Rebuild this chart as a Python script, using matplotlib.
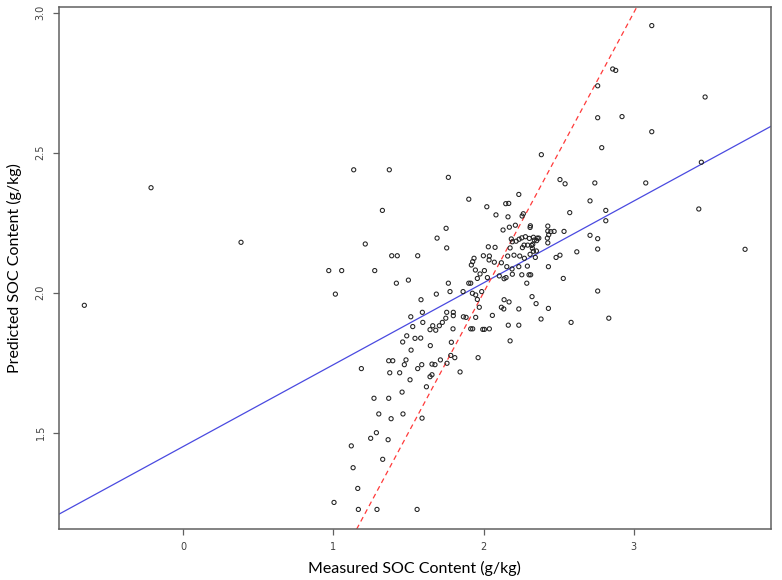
import matplotlib
matplotlib.use("Agg")
import matplotlib.pyplot as plt

# measured vs predicted SOC (g/kg)
measured = [
    1.136, 1.373, 1.766, 2.385, 1.327, 1.902, 2.022, 2.148, 2.168, 2.235,
    2.083, 2.163, 2.265, 2.257, 2.509, 2.543, 2.741, 2.709, 2.574, 1.751,
    1.691, 1.755, 1.213, 1.389, 1.426, 1.562, 0.970, 1.056, 1.276, 1.014,
    1.420, 1.500, 1.766, 1.686, 1.584, 1.777, 1.864, 1.902, 1.915, 1.926,
    1.948, 1.959, 1.988, 1.937, 1.928, 1.919, 1.946, 1.977, 1.959, 2.006,
    2.026, 1.999, 2.032, 2.077, 2.039, 2.037, 2.072, 2.119, 2.130, 2.172,
    2.212, 2.185, 2.192, 2.217, 2.237, 2.255, 2.279, 2.305, 2.332, 2.358,
    2.312, 2.310, 2.177, 2.259, 2.270, 2.294, 2.321, 2.325, 2.332, 2.352,
    2.161, 2.203, 2.241, 2.272, 2.310, 2.345, 2.155, 2.190, 2.235, 2.292,
    2.105, 2.137, 2.150, 2.192, 2.255, 2.303, 2.314, 2.288, 2.428, 2.428,
    2.448, 2.470, 2.434, 2.425, 2.428, 2.536, 2.368, 2.354, 2.328, 2.338,
    2.483, 2.509, 2.621, 2.709, 2.760, 2.760, 2.432, 2.531, 2.760, 2.323,
    2.137, 2.170, 1.972, 2.119, 2.135, 2.235, 2.350, 2.432, 2.059, 1.866,
    1.884, 1.948, 1.755, 1.799, 1.799, 1.749, 1.726, 1.706, 1.662, 1.644,
    1.682, 1.593, 1.596, 1.516, 1.529, 1.582, 1.544, 1.489, 1.462, 1.646,
    1.518, 1.797, 1.915, 1.928, 1.995, 2.006, 2.039, 1.786, 2.165, 2.235,
    2.177, 2.383, 2.583, 1.369, 1.396, 1.484, 1.473, 1.187, 1.376, 1.442,
    1.562, 1.589, 1.657, 1.677, 1.713, 1.782, 1.809, 1.757, 1.964, 1.844,
    1.644, 1.657, 1.511, 1.620, 1.458, 1.271, 1.369, 1.303, 1.464, 1.385,
    1.591, 1.287, 1.249, 1.365, 1.120, 1.329, 1.132, 1.163, 1.005, 1.167,
    1.291, 1.558, 3.120, 2.787, 3.450, 3.080, 2.814, 2.814, 3.433, 3.741,
    2.834, 3.120, 2.860, 2.880, 2.760, 3.475, 2.922, 2.760, -0.213, 0.386,
    -0.657,
]
predicted = [
    2.439, 2.439, 2.412, 2.493, 2.294, 2.334, 2.307, 2.318, 2.319, 2.351,
    2.278, 2.271, 2.282, 2.274, 2.404, 2.389, 2.392, 2.328, 2.286, 2.230,
    2.195, 2.160, 2.174, 2.132, 2.132, 2.132, 2.079, 2.079, 2.079, 1.995,
    2.034, 2.045, 2.034, 1.995, 1.975, 2.004, 2.004, 2.034, 2.034, 1.998,
    1.992, 1.976, 2.004, 2.123, 2.111, 2.099, 2.081, 2.067, 2.051, 2.079,
    2.054, 2.132, 2.164, 2.162, 2.131, 2.117, 2.109, 2.107, 2.224, 2.234,
    2.241, 2.192, 2.182, 2.184, 2.191, 2.196, 2.200, 2.194, 2.198, 2.195,
    2.239, 2.233, 2.160, 2.161, 2.170, 2.170, 2.169, 2.159, 2.148, 2.149,
    2.131, 2.134, 2.131, 2.123, 2.137, 2.126, 2.093, 2.085, 2.093, 2.095,
    2.060, 2.050, 2.054, 2.066, 2.064, 2.064, 2.064, 2.034, 2.238, 2.220,
    2.218, 2.219, 2.207, 2.195, 2.178, 2.219, 2.195, 2.186, 2.173, 2.188,
    2.126, 2.134, 2.146, 2.205, 2.193, 2.156, 2.093, 2.051, 2.006, 1.986,
    1.975, 1.967, 1.948, 1.948, 1.942, 1.942, 1.961, 1.944, 1.919, 1.914,
    1.912, 1.912, 1.930, 1.930, 1.918, 1.909, 1.894, 1.882, 1.882, 1.868,
    1.866, 1.930, 1.894, 1.914, 1.879, 1.838, 1.837, 1.846, 1.824, 1.811,
    1.795, 1.871, 1.871, 1.871, 1.869, 1.869, 1.871, 1.823, 1.884, 1.884,
    1.828, 1.906, 1.894, 1.757, 1.757, 1.760, 1.743, 1.729, 1.714, 1.714,
    1.729, 1.743, 1.745, 1.743, 1.760, 1.776, 1.768, 1.748, 1.768, 1.717,
    1.700, 1.707, 1.689, 1.664, 1.645, 1.623, 1.623, 1.567, 1.567, 1.550,
    1.552, 1.500, 1.480, 1.475, 1.453, 1.405, 1.375, 1.301, 1.251, 1.226,
    1.226, 1.226, 2.575, 2.518, 2.466, 2.392, 2.294, 2.257, 2.299, 2.155,
    1.909, 2.954, 2.799, 2.794, 2.739, 2.699, 2.629, 2.625, 2.375, 2.180,
    1.955,
]

# regression line of predicted on measured, and the 1:1 line
fit_intercept = 1.4504
fit_slope = 0.2923

x_ticks = [0, 1, 2, 3]
y_ticks = [1.5, 2.0, 2.5, 3.0]

fig = plt.figure(figsize=(7.82, 5.80), dpi=100)
ax = fig.add_axes([0.0751, 0.0876, 0.9109, 0.9008])

ax.scatter(measured, predicted, s=9, facecolors='none', edgecolors='#202020',
           linewidths=0.75, zorder=3)
ax.axline((0, fit_intercept), slope=fit_slope, color='#4a4ae0', lw=0.9, zorder=2)
ax.axline((0, 0), slope=1, color='#ff3a3a', lw=0.9, ls=(0, (4, 3)), zorder=2)

ax.set_xlim(-0.8274, 3.914)
ax.set_ylim(1.1554, 3.0214)
ax.set_xticks(x_ticks)
ax.set_yticks(y_ticks)
ax.set_xticklabels([str(t) for t in x_ticks])
ax.set_yticklabels(['%.1f' % t for t in y_ticks], rotation=90, va='center')

for s in ax.spines.values():
    s.set_color('#606060')
    s.set_linewidth(1.1)
ax.tick_params(direction='out', length=4.5, width=0.9, color='#606060',
               labelsize=7, labelcolor='#404040', pad=5)

ax.set_xlabel('Measured SOC Content (g/kg)', fontsize=11.5, family='Lato',
              labelpad=6)
ax.set_ylabel('Predicted SOC Content (g/kg)', fontsize=11.5, family='Lato',
              labelpad=10)

fig.savefig('out.png', dpi=100)
